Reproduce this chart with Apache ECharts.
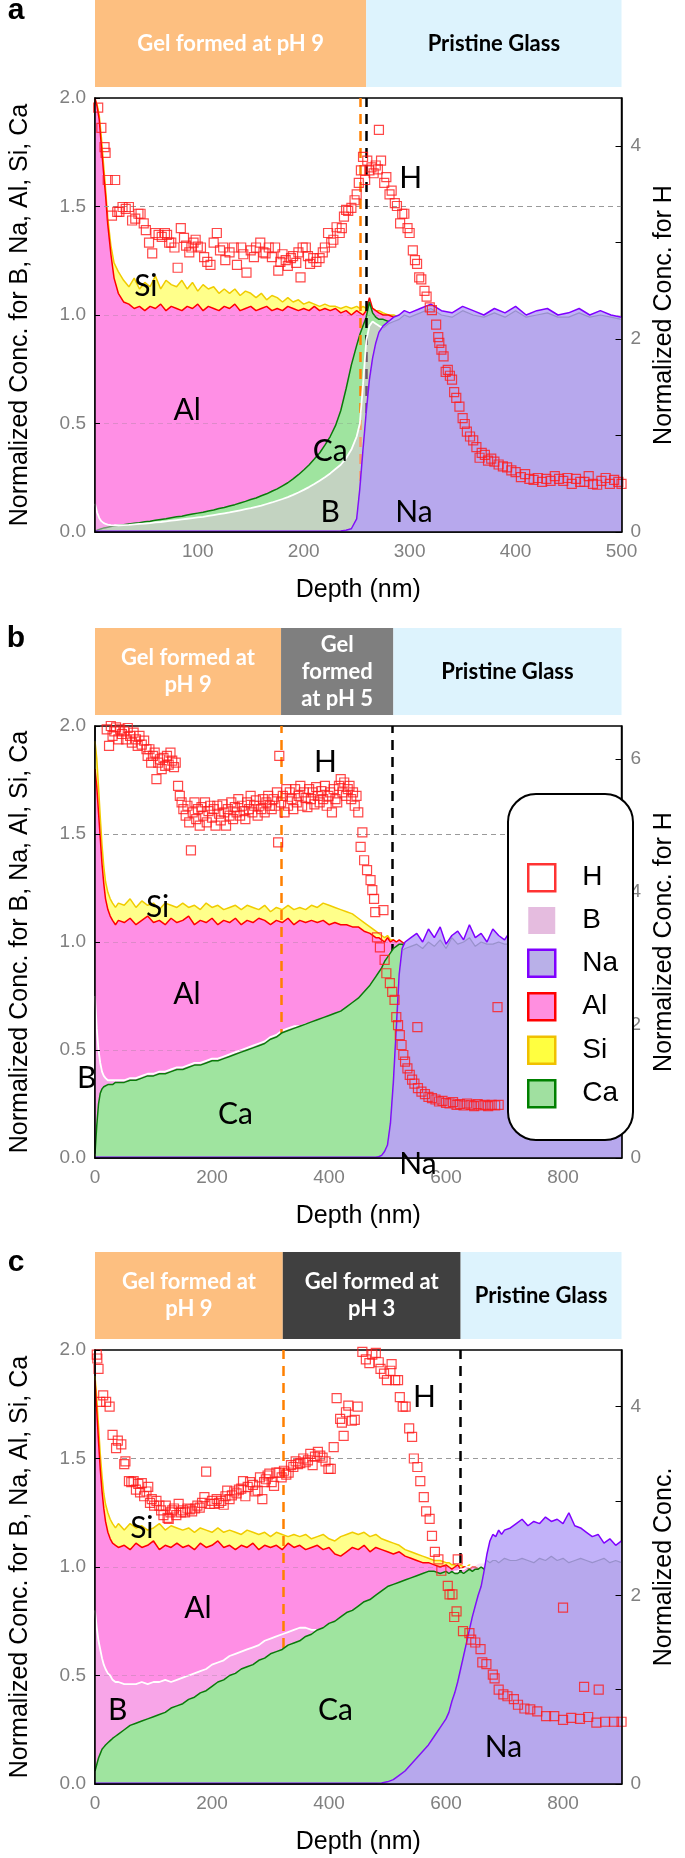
<!DOCTYPE html>
<html><head><meta charset="utf-8">
<script src="https://cdn.jsdelivr.net/npm/echarts@6/dist/echarts.min.js"></script>
<style>html,body{margin:0;padding:0;background:#fff}#c{width:685px;height:1858px}</style>
</head><body><div id="c"></div>
<script>
// ================= DATA =================
// ---- Panel a ----
const depthA = [
3,5,7,9,11,13,15,18,21,25,
30,35,40,45,50,55,60,65,70,75,
80,85,90,95,100,105,110,115,120,125,
130,135,140,145,150,155,160,165,170,175,
180,185,190,195,200,205,210,215,220,225,
230,235,240,245,250,253,256,259,262,265,
268,271,275,280,285,290,295,300,310,320,
330,340,350,360,370,380,390,400,410,420,
430,440,450,460,470,480,490,500];
const alA = [
2.0,1.96,1.9,1.78,1.66,1.55,1.42,1.28,1.17,1.1,
1.06,1.05,1.03,1.04,1.02,1.04,1.03,1.05,1.02,1.04,
1.03,1.02,1.04,1.03,1.05,1.02,1.04,1.03,1.02,1.04,
1.03,1.05,1.02,1.03,1.04,1.02,1.03,1.04,1.02,1.03,
1.02,1.04,1.03,1.02,1.03,1.02,1.04,1.02,1.03,1.02,
1.03,1.01,1.02,1.0,1.02,1.01,1.0,1.02,1.08,1.03,
1.02,1.01,1.0,1.0,0.99,0.99,0.98,0.98];
const siA = [
1.99,1.97,1.92,1.82,1.7,1.58,1.45,1.32,1.24,1.2,
1.16,1.13,1.17,1.12,1.15,1.13,1.18,1.12,1.16,1.14,
1.13,1.16,1.12,1.15,1.11,1.14,1.12,1.13,1.1,1.12,
1.1,1.12,1.09,1.11,1.1,1.08,1.1,1.07,1.09,1.08,
1.06,1.08,1.06,1.07,1.05,1.06,1.05,1.04,1.05,1.04,
1.04,1.03,1.04,1.03,1.04,1.03,1.04,1.03,1.05,1.03,
1.02,1.02,1.01,1.0,1.0,0.99,0.99,0.98];
const caA = [
0.005,0.008,0.012,0.015,0.018,0.02,0.022,0.025,0.028,0.031,
0.034,0.037,0.04,0.043,0.047,0.05,0.054,0.058,0.061,0.066,
0.07,0.073,0.078,0.083,0.087,0.091,0.097,0.101,0.108,0.113,
0.12,0.126,0.134,0.141,0.15,0.157,0.167,0.176,0.188,0.199,
0.213,0.227,0.245,0.264,0.286,0.309,0.336,0.364,0.4,0.44,
0.49,0.56,0.66,0.77,0.86,0.91,0.95,0.99,1.06,1.01,
0.99,0.98,0.98,0.97,0.98,0.97,0.97,0.96];
const bA = [
0.13,0.09,0.065,0.05,0.042,0.037,0.034,0.032,0.031,0.031,
0.032,0.033,0.035,0.037,0.039,0.041,0.044,0.046,0.049,0.052,
0.055,0.058,0.061,0.064,0.067,0.07,0.074,0.078,0.082,0.086,
0.09,0.095,0.1,0.105,0.11,0.116,0.122,0.129,0.136,0.144,
0.152,0.161,0.171,0.182,0.194,0.207,0.221,0.236,0.252,0.27,
0.29,0.31,0.34,0.38,0.44,0.5,0.68,0.88,0.95,0.97,
0.96,0.95,0.94,0.96,0.97,0.98,1.0,0.99,1.01,1.03,
1.0,0.99,1.02,1.0,0.99,1.01,0.99,1.02,0.99,1.0,
1.01,0.99,0.99,1.01,0.99,1.0,0.99,0.98];
const naA = [
0.004,0.004,0.004,0.004,0.004,0.004,0.004,0.004,0.004,0.004,
0.004,0.004,0.004,0.004,0.004,0.004,0.004,0.004,0.004,0.004,
0.004,0.004,0.004,0.004,0.004,0.004,0.004,0.004,0.004,0.004,
0.004,0.004,0.004,0.004,0.004,0.004,0.004,0.004,0.004,0.004,
0.004,0.004,0.004,0.004,0.004,0.004,0.004,0.004,0.004,0.004,
0.004,0.005,0.008,0.015,0.06,0.2,0.38,0.55,0.7,0.8,
0.87,0.92,0.95,0.97,0.99,1.0,1.02,1.01,1.03,1.05,
1.02,1.01,1.04,1.02,1.0,1.03,1.01,1.04,1.0,1.02,
1.03,1.0,1.01,1.03,1.0,1.02,1.0,0.99];
const hA = [
[6,4.4],[9,4.19],[12,3.99],[13,3.93],[15,3.65],[19,3.28],[22,3.65],[24,3.32],[26,3.32],[29,3.37],
[32,3.35],[35,3.37],[38,3.23],[41,3.25],[44,3.3],[46,3.3],[49,3.2],[51,3.13],[54,3.0],[57,2.89],
[60,3.1],[63,3.08],[66,3.06],[69,3.1],[71,3.08],[73,3.0],[75,3.0],[78,2.95],[81,2.74],[84,3.15],
[87,3.05],[89,2.97],[92,2.9],[94,2.95],[96,3.0],[98,3.03],[100,2.96],[103,2.95],[106,2.85],[109,2.8],
[112,2.77],[115,3.0],[118,3.1],[121,2.92],[124,2.95],[126,2.82],[130,2.9],[134,2.95],[137,2.77],[141,2.95],
[143,2.88],[146,2.69],[150,2.92],[153,2.85],[155,2.95],[159,3.0],[162,2.9],[164,2.89],[167,2.95],[170,2.85],
[173,2.95],[176,2.71],[178,2.8],[180,2.88],[183,2.82],[185,2.76],[188,2.84],[190,2.86],[193,2.79],[195,2.9],
[197,2.64],[199,2.95],[202,2.95],[204,2.86],[206,2.78],[209,2.84],[212,2.8],[215,2.84],[218,2.9],[220,2.95],
[223,3.1],[226,3.0],[228,3.03],[231,3.16],[234,3.1],[236,3.15],[238,3.27],[240,3.34],[242,3.33],[245,3.36],
[248,3.44],[250,3.5],[252,3.62],[254,3.75],[256,3.89],[258,3.65],[260,3.85],[262,3.75],[264,3.78],[266,3.72],
[268,3.8],[270,3.76],[271,4.17],[273,3.85],[276,3.62],[278,3.68],[281,3.5],[283,3.54],[286,3.41],[288,3.38],
[291,3.2],[293,3.3],[295,3.3],[298,3.15],[300,3.1],[303,2.92],[305,2.82],[307,2.78],[309,2.64],[311,2.62],
[314,2.5],[316,2.44],[319,2.33],[321,2.3],[325,2.15],[327,2.02],[328,1.96],[330,1.89],[332,1.82],[334,1.66],
[336,1.68],[338,1.62],[340,1.58],[342,1.45],[344,1.39],[347,1.3],[350,1.18],[352,1.12],[354,1.04],[357,0.99],
[360,0.95],[363,0.88],[366,0.77],[368,0.82],[371,0.8],[374,0.74],[377,0.76],[380,0.73],[384,0.7],[388,0.68],
[392,0.67],[396,0.64],[400,0.62],[405,0.57],[409,0.6],[413,0.55],[417,0.54],[421,0.56],[425,0.52],[429,0.55],
[433,0.53],[437,0.58],[441,0.55],[445,0.53],[449,0.56],[453,0.5],[457,0.55],[461,0.52],[465,0.52],[469,0.58],
[473,0.5],[477,0.49],[481,0.53],[485,0.56],[489,0.5],[493,0.54],[497,0.52],[500,0.5]];

// ---- Panel b ----
const depthB = [
0,3,6,9,12,15,18,22,26,30,
35,40,50,60,70,80,90,100,110,120,
130,140,150,160,170,180,190,200,210,220,
230,240,250,260,270,280,290,300,310,320,
330,340,350,360,370,380,390,400,410,420,
430,440,450,460,470,480,485,490,495,500,
505,510,515,520,525,530,540,550,560,570,
580,590,600,610,620,630,640,650,660,670,
680,690,700,710,720,730,740,750,760,770,
780,790,800,810,820,830,840,850,860,870,
880,890,900];
const alB = [
1.8,1.72,1.6,1.48,1.36,1.27,1.2,1.15,1.12,1.1,
1.08,1.1,1.09,1.11,1.08,1.1,1.12,1.09,1.1,1.08,
1.11,1.09,1.1,1.12,1.08,1.1,1.09,1.11,1.08,1.1,
1.09,1.11,1.08,1.1,1.09,1.11,1.1,1.08,1.1,1.09,
1.11,1.08,1.1,1.09,1.1,1.09,1.1,1.08,1.09,1.08,
1.08,1.07,1.07,1.05,1.04,1.02,1.02,1.01,1.0,1.02,
1.0,1.01,1.0,1.01,1.0,0.99,0.98];
const siB = [
1.93,1.85,1.72,1.58,1.45,1.35,1.28,1.23,1.2,1.18,
1.16,1.18,1.17,1.2,1.16,1.19,1.17,1.18,1.15,1.18,
1.17,1.16,1.18,1.16,1.17,1.15,1.18,1.16,1.17,1.15,
1.16,1.17,1.15,1.17,1.16,1.15,1.17,1.14,1.16,1.15,
1.17,1.15,1.16,1.15,1.17,1.16,1.18,1.17,1.16,1.15,
1.14,1.13,1.11,1.09,1.07,1.05,1.04,1.03,1.02,1.03,
1.01,1.01,1.0,1.0,0.99,0.99,0.98];
const caB = [
0.02,0.15,0.25,0.3,0.32,0.33,0.33,0.34,0.34,0.34,
0.35,0.35,0.35,0.36,0.36,0.37,0.38,0.38,0.39,0.39,
0.4,0.41,0.41,0.42,0.43,0.43,0.44,0.45,0.45,0.46,
0.47,0.48,0.49,0.5,0.51,0.52,0.53,0.55,0.56,0.58,
0.59,0.6,0.61,0.62,0.63,0.64,0.65,0.66,0.67,0.68,
0.7,0.72,0.74,0.77,0.8,0.84,0.86,0.88,0.91,0.93,
0.95,0.97,0.98,0.99,0.99,0.98,0.98];
const bB = [
0.75,0.6,0.5,0.44,0.4,0.38,0.37,0.36,0.36,0.36,
0.36,0.36,0.36,0.37,0.37,0.38,0.39,0.39,0.4,0.4,
0.41,0.42,0.42,0.43,0.44,0.44,0.45,0.46,0.46,0.47,
0.48,0.49,0.5,0.51,0.52,0.53,0.54,0.56,0.57,0.59,
0.6,0.61,0.61,0.62,0.62,0.63,0.63,0.64,0.64,0.65,
0.66,0.68,0.7,0.73,0.76,0.8,0.83,0.86,0.9,0.93,
0.95,0.96,0.97,0.97,0.96,0.97,0.98,0.99,0.97,1.0,
0.98,1.01,0.97,1.02,0.99,1.0,1.02,0.98,1.0,0.99,
0.99,1.0,0.99,0.99,1.0,1.02,0.98,1.0,1.01,0.99,
1.0,0.99,1.0,1.0,0.99,1.0,1.01,0.99,0.99,0.99,
1.0,0.99,0.99];
const naB = [
0.003,0.003,0.003,0.003,0.003,0.003,0.003,0.003,0.003,0.003,
0.003,0.003,0.003,0.003,0.003,0.003,0.003,0.003,0.003,0.003,
0.003,0.003,0.003,0.003,0.003,0.003,0.003,0.003,0.003,0.003,
0.003,0.003,0.003,0.003,0.003,0.003,0.003,0.003,0.003,0.003,
0.003,0.003,0.003,0.003,0.003,0.003,0.003,0.003,0.003,0.003,
0.003,0.003,0.003,0.003,0.003,0.004,0.006,0.012,0.03,0.06,
0.16,0.35,0.6,0.85,0.97,1.0,1.02,1.04,1.0,1.06,
1.02,1.07,0.99,1.03,1.05,1.01,1.08,1.02,1.04,1.0,
1.06,1.03,1.01,1.05,1.02,1.04,1.0,1.03,1.05,1.01,
1.02,1.04,1.0,1.03,1.02,1.01,1.04,1.02,1.0,1.03,
1.01,1.02,1.0];
const hB = [
[20,6.45],[24,6.2],[27,6.5],[30,6.35],[33,6.42],[36,6.48],[40,6.3],[43,6.45],[46,6.38],[50,6.42],
[53,6.3],[56,6.47],[60,6.35],[63,6.25],[66,6.4],[70,6.3],[73,6.2],[76,6.35],[80,6.22],[84,6.28],
[88,6.15],[90,6.05],[93,6.15],[96,5.95],[99,6.05],[102,6.1],[105,5.7],[108,5.95],[111,6.0],[114,5.85],
[117,6.02],[120,5.9],[123,6.05],[126,5.92],[129,6.1],[132,5.98],[135,5.88],[138,5.95],[142,5.6],[145,5.45],
[148,5.35],[151,5.25],[155,5.15],[158,5.3],[161,5.05],[164,4.63],[167,5.2],[170,5.35],[173,5.1],[176,5.25],
[179,5.0],[182,5.28],[185,5.15],[188,5.35],[191,5.05],[194,5.22],[197,5.3],[200,5.12],[203,5.25],[206,5.0],
[209,5.3],[212,5.18],[215,5.08],[218,5.32],[221,5.2],[224,5.0],[227,5.25],[230,5.15],[233,5.35],[236,5.1],
[239,5.28],[242,5.2],[245,5.4],[248,5.15],[251,5.3],[254,5.22],[257,5.1],[260,5.35],[263,5.25],[266,5.45],
[269,5.2],[272,5.3],[275,5.38],[278,5.15],[281,5.3],[284,5.25],[287,5.4],[290,5.2],[293,5.35],[296,5.45],
[299,5.3],[302,5.25],[305,5.4],[308,5.3],[311,5.5],[313,4.75],[315,6.05],[318,5.35],[321,5.45],[324,5.2],
[327,5.55],[330,5.3],[333,5.5],[336,5.4],[339,5.25],[342,5.55],[345,5.35],[348,5.45],[351,5.6],[354,5.3],
[357,5.5],[360,5.42],[363,5.28],[366,5.55],[369,5.4],[372,5.5],[375,5.32],[378,5.58],[381,5.45],[384,5.35],
[387,5.52],[390,5.4],[393,5.6],[396,5.3],[399,5.45],[402,5.5],[405,5.2],[408,5.55],[411,5.4],[414,5.35],
[417,5.6],[420,5.7],[423,5.5],[426,5.65],[429,5.45],[432,5.55],[435,5.6],[438,5.4],[441,5.5],[444,5.3],
[447,5.45],[450,5.2],[454,4.68],[457,4.9],[460,4.48],[465,4.33],[471,4.18],[474,4.03],[477,3.9],[479,3.7],
[482,3.32],[487,3.17],[493,3.73],[495,2.98],[498,2.78],[504,2.63],[508,2.5],[512,2.38],[515,2.12],[518,2.0],
[521,1.85],[524,1.7],[527,1.55],[530,1.45],[534,1.35],[538,1.25],[542,1.18],[546,1.12],[551,1.97],[552,1.05],
[558,1.0],[564,0.96],[570,0.92],[576,0.9],[582,0.88],[588,0.85],[594,0.86],[600,0.83],[606,0.82],[612,0.84],
[618,0.8],[624,0.81],[630,0.79],[636,0.82],[642,0.8],[648,0.78],[654,0.81],[660,0.79],[666,0.8],[672,0.78],
[678,0.8],[684,0.79],[688,2.27],[690,0.8]];

// ---- Panel c ----
const depthC = [
0,3,6,9,12,15,18,22,26,30,
35,40,50,60,70,80,90,100,110,120,
130,140,150,160,170,180,190,200,210,220,
230,240,250,260,270,280,290,300,310,320,
330,340,350,360,370,380,390,400,410,420,
430,440,450,460,470,480,490,500,510,520,
530,540,550,560,570,580,590,600,605,610,
615,620,625,630,635,640,645,650,655,660,
665,670,675,680,685,690,695,700,710,720,
730,740,750,760,770,780,790,800,810,820,
830,840,850,860,870,880,890,900];
const alC = [
1.86,1.72,1.58,1.45,1.35,1.27,1.21,1.16,1.13,1.11,
1.1,1.09,1.1,1.08,1.11,1.09,1.1,1.12,1.08,1.1,
1.09,1.11,1.09,1.1,1.08,1.11,1.09,1.1,1.12,1.09,
1.1,1.08,1.1,1.09,1.11,1.08,1.1,1.09,1.1,1.08,
1.11,1.09,1.1,1.08,1.09,1.1,1.08,1.09,1.06,1.05,
1.07,1.09,1.08,1.1,1.07,1.09,1.08,1.07,1.06,1.07,
1.05,1.04,1.03,1.02,1.02,1.01,1.0,1.01,1.0,0.99,
1.0,1.01,0.99,1.0,1.0,0.99,1.0,1.0,0.99,0.99,
0.99,0.98,0.98,0.98];
const siC = [
1.88,1.78,1.65,1.52,1.42,1.34,1.29,1.25,1.22,1.2,
1.18,1.2,1.17,1.2,1.18,1.19,1.17,1.18,1.2,1.17,
1.19,1.18,1.17,1.18,1.16,1.18,1.17,1.16,1.18,1.16,
1.17,1.16,1.15,1.17,1.16,1.15,1.16,1.14,1.16,1.15,
1.14,1.15,1.14,1.15,1.13,1.14,1.15,1.13,1.12,1.14,
1.15,1.16,1.15,1.16,1.14,1.15,1.13,1.12,1.11,1.1,
1.08,1.07,1.06,1.05,1.04,1.03,1.03,1.02,1.02,1.01,
1.01,1.0,1.01,1.0,1.0,1.01,1.0,1.0,0.99,0.99,
0.99,0.98,0.98,0.98];
const caC = [
0.06,0.09,0.12,0.14,0.16,0.17,0.18,0.19,0.2,0.21,
0.22,0.23,0.25,0.27,0.28,0.29,0.3,0.31,0.32,0.33,
0.35,0.36,0.37,0.39,0.4,0.42,0.43,0.45,0.47,0.48,
0.5,0.51,0.53,0.54,0.55,0.57,0.58,0.6,0.61,0.62,
0.64,0.65,0.66,0.68,0.69,0.71,0.72,0.74,0.75,0.77,
0.79,0.8,0.82,0.84,0.85,0.87,0.89,0.91,0.92,0.93,
0.94,0.95,0.96,0.97,0.98,0.98,0.97,0.98,0.97,0.98,
0.97,0.97,0.98,0.97,0.98,0.99,0.98,0.99,0.99,1.0,
0.99,0.98,0.98,0.98];
const bC = [
0.8,0.72,0.66,0.62,0.58,0.55,0.53,0.51,0.5,0.48,
0.47,0.47,0.46,0.46,0.46,0.47,0.46,0.47,0.47,0.48,
0.47,0.48,0.49,0.5,0.51,0.52,0.53,0.55,0.56,0.57,
0.59,0.6,0.61,0.62,0.63,0.64,0.66,0.67,0.68,0.69,
0.7,0.71,0.72,0.72,0.71,0.71,0.7,0.7,0.7,0.71,
0.7,0.71,0.7,0.71,0.72,0.71,0.73,0.76,0.78,0.8,
0.84,0.86,0.88,0.9,0.92,0.94,0.95,0.96,0.97,0.97,
0.98,0.98,0.99,0.99,1.0,1.0,1.01,1.01,1.02,1.02,
1.02,1.03,1.02,1.03,1.03,1.02,1.03,1.04,1.03,1.03,
1.04,1.03,1.02,1.04,1.03,1.05,1.03,1.04,1.02,1.03,
1.04,1.03,1.02,1.03,1.04,1.02,1.03,1.02];
const naC = [
0.003,0.003,0.003,0.003,0.003,0.003,0.003,0.003,0.003,0.003,
0.003,0.003,0.003,0.003,0.003,0.003,0.003,0.003,0.003,0.003,
0.003,0.003,0.003,0.003,0.003,0.003,0.003,0.003,0.003,0.003,
0.003,0.003,0.003,0.003,0.003,0.003,0.003,0.003,0.003,0.003,
0.003,0.003,0.003,0.003,0.003,0.003,0.003,0.003,0.003,0.003,
0.003,0.003,0.003,0.003,0.003,0.004,0.005,0.01,0.02,0.04,
0.06,0.09,0.12,0.15,0.18,0.22,0.26,0.3,0.33,0.38,
0.42,0.47,0.53,0.59,0.65,0.71,0.77,0.82,0.87,0.91,
0.98,1.06,1.12,1.15,1.14,1.17,1.15,1.17,1.18,1.2,
1.22,1.19,1.21,1.2,1.23,1.21,1.22,1.2,1.25,1.19,
1.18,1.16,1.14,1.15,1.11,1.13,1.1,1.12];
const hC = [
[3,4.55],[4,4.51],[6,4.4],[9,4.05],[14,4.12],[19,4.05],[25,4.0],[30,3.7],[36,3.56],[39,3.64],
[45,3.6],[50,3.39],[52,3.42],[58,3.21],[62,3.2],[66,3.21],[70,3.12],[74,3.18],[77,3.09],[80,3.19],
[84,3.05],[88,3.1],[91,3.15],[94,2.98],[97,3.02],[101,2.95],[105,3.0],[110,2.95],[113,2.9],[117,2.85],
[121,2.95],[124,2.82],[126,2.81],[129,2.88],[132,2.9],[135,2.92],[139,2.85],[143,2.97],[147,2.88],[150,2.9],
[154,2.88],[158,2.92],[162,2.91],[166,2.89],[171,2.92],[175,2.95],[179,2.93],[183,2.98],[187,3.04],[190,3.31],
[196,2.97],[200,3.0],[204,2.97],[208,3.02],[212,2.98],[216,3.0],[220,2.96],[223,3.05],[226,3.11],[230,3.02],
[234,3.06],[238,3.1],[242,3.08],[246,3.12],[250,3.13],[253,3.21],[257,3.05],[261,3.15],[265,3.2],[270,3.17],
[274,3.1],[278,3.11],[282,3.25],[286,3.02],[289,3.2],[292,3.23],[295,3.27],[298,3.29],[302,3.2],[306,3.16],
[310,3.3],[315,3.3],[319,3.25],[323,3.32],[327,3.28],[331,3.3],[335,3.38],[339,3.36],[343,3.42],[347,3.39],
[351,3.4],[356,3.45],[360,3.41],[364,3.43],[368,3.5],[372,3.38],[376,3.47],[381,3.52],[385,3.48],[389,3.46],
[394,3.42],[399,3.34],[403,3.34],[408,3.57],[413,4.09],[419,3.87],[422,3.83],[425,3.69],[429,3.94],[433,4.01],
[439,3.85],[444,3.86],[449,4.0],[457,4.58],[463,4.5],[469,4.46],[474,4.55],[480,4.57],[485,4.47],[488,4.4],
[494,4.35],[499,4.28],[505,4.38],[507,4.45],[513,4.28],[518,4.28],[521,4.1],[526,4.0],[531,4.0],[537,3.77],
[542,3.68],[545,3.45],[551,3.36],[556,3.21],[562,3.04],[566,2.89],[572,2.81],[576,2.63],[581,2.46],[587,2.38],
[592,2.26],[603,2.1],[606,2.01],[611,2.01],[614,1.77],[618,1.83],[620,2.38],[629,1.62],[640,1.6],[643,1.53],
[650,1.5],[659,1.43],[662,1.29],[669,1.27],[680,1.16],[683,1.12],[690,1.0],[698,0.95],[705,0.93],[716,0.9],
[723,0.84],[734,0.8],[744,0.79],[756,0.77],[771,0.72],[785,0.72],[800,0.68],[800,1.87],[814,0.7],[829,0.69],
[836,1.03],[843,0.71],[857,0.65],[861,1.0],[872,0.66],[887,0.66],[900,0.66]];

// axis ticks / labels
const xLabelsA = [100,200,300,400,500];
const xLabelsBC = [0,200,400,600,800];
const hTicksA = [0,1,2,3,4], hLabelsA = [0,2,4];
const hTicksB = [0,1,2,3,4,5,6], hLabelsB = [0,2,4,6];
const hTicksC = [0,1,2,3,4], hLabelsC = [0,2,4];

// region boundaries (depth, nm) and dashed markers
const bannerEdgesA = [3,259,500];
const bannerEdgesB = [0,318,510,900];
const bannerEdgesC = [0,321,625,900];
const bannerTextsA = ['Gel formed at pH 9','Pristine Glass'];
const bannerTextsB = ['Gel formed at\npH 9','Gel\nformed\nat pH 5','Pristine Glass'];
const bannerTextsC = ['Gel formed at\npH 9','Gel formed at\npH 3','Pristine Glass'];
const dashA = [253,259], dashB = [318,508], dashC = [321,624];
const bSplitA = 275, bSplitB = 525, bSplitC = 670;

// ================= STYLE / LAYOUT =================
const FONT = 'Liberation Sans';
const bannerFill = [['#FDBF80','#DDF3FD'],['#FDBF80','#7F7F7F','#DDF3FD'],['#FDBF80','#404040','#DDF3FD']];
const bannerText = [['#fff','#000'],['#fff','#fff','#000'],['#fff','#fff','#000']];
const annotLayout = [
  [['H',301,1.63],['Si',51,1.13],['Al',90,0.56],['Ca',225,0.37],['B',225,0.09],['Na',304,0.09]],
  [['H',394,1.83],['Si',107,1.16],['Al',157,0.76],['Ca',240,0.2],['B',-14,0.37],['Na',552,-0.03]],
  [['H',563,1.78],['Si',80,1.18],['Al',176,0.81],['B',39,0.34],['Ca',411,0.34],['Na',698,0.17]]
];
// draw order of Ca vs. B (gel part) per panel
const zCa = [4,5,5], zBgel = [5,4,4];
const panels = [
  {depth:depthA, al:alA, si:siA, ca:caA, b:bA, na:naA, h:hA, split:bSplitA, xmin:3, xmax:500, xl:xLabelsA,
   hmax:4.5, ht:hTicksA, hl:hLabelsA, dash:dashA, rname:'Normalized Conc. for H',
   grid:{left:87, top:98, width:544, height:434}, edges:bannerEdgesA, btexts:bannerTextsA, letter:'a'},
  {depth:depthB, al:alB, si:siB, ca:caB, b:bB, na:naB, h:hB, split:bSplitB, xmin:0, xmax:900, xl:xLabelsBC,
   hmax:6.5, ht:hTicksB, hl:hLabelsB, dash:dashB, rname:'Normalized Conc. for H',
   grid:{left:88, top:726, width:545, height:432}, edges:bannerEdgesB, btexts:bannerTextsB, letter:'b'},
  {depth:depthC, al:alC, si:siC, ca:caC, b:bC, na:naC, h:hC, split:bSplitC, xmin:0, xmax:900, xl:xLabelsBC,
   hmax:4.6, ht:hTicksC, hl:hLabelsC, dash:dashC, rname:'Normalized Conc.',
   grid:{left:87, top:1350, width:545, height:434}, edges:bannerEdgesC, btexts:bannerTextsC, letter:'c'}
];

function pairs(d, v){ return v.map((y,k)=>[d[k], y]); }

const grids=[], xAxes=[], yAxes=[], series=[];
panels.forEach((p,i)=>{
  grids.push(Object.assign({show:true, borderColor:'#000', borderWidth:1.5, backgroundColor:'#fff'}, p.grid));
  const xa = {gridIndex:i, type:'value', min:p.xmin, max:p.xmax, z:15,
    axisLine:{show:true, onZero:false, lineStyle:{color:'#000', width:1.5}},
    axisTick:{show:false}, splitLine:{show:false},
    axisLabel:{customValues:p.xl, color:'#808080', fontSize:19, fontFamily:FONT, margin:10},
    name:'Depth (nm)', nameLocation:'middle', nameGap:46,
    nameTextStyle:{fontSize:25, color:'#000', fontFamily:FONT}};
  if (i>0) xa.interval = 200;
  xAxes.push(xa);
  yAxes.push({gridIndex:i, type:'value', position:'left', min:0, max:2, interval:0.5, z:15,
    axisLine:{show:true, lineStyle:{color:'#000', width:1.5}},
    axisTick:{show:true, inside:true, length:5, lineStyle:{color:'#000'}},
    splitLine:{show:false},
    axisLabel:{formatter:v=>v.toFixed(1), color:'#808080', fontSize:19, fontFamily:FONT, margin:9},
    name:'Normalized Conc. for B, Na, Al, Si, Ca', nameLocation:'middle', nameGap:62, nameRotate:90,
    nameTextStyle:{fontSize:25, color:'#000', fontFamily:FONT}});
  yAxes.push({gridIndex:i, type:'value', position:'right', min:0, max:p.hmax, z:15,
    axisLine:{show:true, lineStyle:{color:'#000', width:1.5}},
    axisTick:{show:true, inside:true, length:6, customValues:p.ht, lineStyle:{color:'#000'}},
    splitLine:{show:false},
    axisLabel:{customValues:p.hl, color:'#808080', fontSize:19, fontFamily:FONT, margin:9},
    name:p.rname, nameLocation:'middle', nameGap:27, nameRotate:90,
    nameTextStyle:{fontSize:25, color:'#000', fontFamily:FONT}});
  const common = {type:'line', xAxisIndex:i, yAxisIndex:2*i, showSymbol:false, symbol:'none', silent:true, animation:false};
  const bAll = pairs(p.depth, p.b);
  // B as seen through the Na region: the lower of the two read curves
  const bUnderNa = p.b.map((v,k)=>[p.depth[k], Math.min(v, p.na[k])]);
  series.push(Object.assign({}, common, {name:'Si', z:2, data:pairs(p.depth,p.si),
    lineStyle:{color:'#F0CC00', width:1.5}, areaStyle:{color:'#FFFF8A', opacity:1},
    markLine:{silent:true, symbol:['none','none'], label:{show:false}, animation:false,
      lineStyle:{type:[5,4], color:'#9a9a9a', width:1}, data:[{yAxis:1.5}]}}));
  series.push(Object.assign({}, common, {name:'Al', z:3, data:pairs(p.depth,p.al),
    lineStyle:{color:'#FF0000', width:1.5}, areaStyle:{color:'#FF8FE5', opacity:1}}));
  series.push(Object.assign({}, common, {name:'Ca', z:zCa[i], data:pairs(p.depth,p.ca),
    lineStyle:{color:'#0A7A0A', width:1.5}, areaStyle:{color:'#9FE49F', opacity:1}}));
  series.push(Object.assign({}, common, {name:'B', z:zBgel[i], data:bAll.filter(d=>d[0]<=p.split),
    lineStyle:{color:'#FFFFFF', width:1.8}, areaStyle:{color:'rgba(240,192,235,0.65)'}}));
  series.push(Object.assign({}, common, {name:'Na', z:6, data:pairs(p.depth,p.na),
    lineStyle:{color:'#7F00FF', width:1.5}, areaStyle:{color:'#C2B2F9', opacity:1},
    markLine:{silent:true, symbol:['none','none'], label:{show:false}, animation:false,
      lineStyle:{type:[5,4], color:'rgba(120,120,120,0.25)', width:1}, data:[{yAxis:0.5},{yAxis:1.0}]}}));
  series.push(Object.assign({}, common, {name:'B', z:7, data:bUnderNa,
    lineStyle:{width:0, opacity:0}, areaStyle:{color:'rgba(150,140,200,0.35)'}}));
  series.push(Object.assign({}, common, {name:'B', z:7, data:bAll.filter(d=>d[0]>=p.split),
    lineStyle:{color:'rgba(140,135,190,0.75)', width:1.2}}));
  series.push({type:'scatter', name:'H', xAxisIndex:i, yAxisIndex:2*i+1, z:9, silent:true, animation:false,
    data:p.h, symbol:'rect', symbolSize:9,
    itemStyle:{color:'rgba(255,255,255,0)', borderColor:'#FF1A1A', borderWidth:1.2},
    markLine:{silent:true, symbol:['none','none'], label:{show:false}, animation:false,
      data:[{xAxis:p.dash[0], lineStyle:{color:'#FF8000', type:[10,7], width:2.5}},
            {xAxis:p.dash[1], lineStyle:{color:'#000', type:[10,7], width:2.5}}]}});
});

const option = {
  animation:false, backgroundColor:'#fff',
  grid:grids, xAxis:xAxes, yAxis:yAxes, series:series,
  legend:{show:true, orient:'vertical', left:522, top:858, itemWidth:27, itemHeight:27, itemGap:14,
    selectedMode:false, z:30,
    textStyle:{fontSize:28, color:'#000', fontFamily:FONT, padding:[0,0,0,22], lineHeight:27},
    data:[
      {name:'H', icon:'rect', itemStyle:{color:'#fff', borderColor:'#FF0000', borderWidth:2.5}},
      {name:'B', icon:'rect', itemStyle:{color:'#E5BCDF', borderWidth:0}},
      {name:'Na', icon:'rect', itemStyle:{color:'#B9B0E8', borderColor:'#7F00FF', borderWidth:2.5}},
      {name:'Al', icon:'rect', itemStyle:{color:'#FF8FE0', borderColor:'#FF0000', borderWidth:2.5}},
      {name:'Si', icon:'rect', itemStyle:{color:'#FFFF40', borderColor:'#F0C000', borderWidth:2.5}},
      {name:'Ca', icon:'rect', itemStyle:{color:'#A0E0A0', borderColor:'#008000', borderWidth:2.5}}
    ]}
};

const chart = echarts.init(document.getElementById('c'), null, {renderer:'canvas'});
chart.setOption(option);

const els = [];
panels.forEach((p,i)=>{
  const top = p.grid.top - 98, h = 87;
  for (let k=0;k<p.edges.length-1;k++){
    const x0 = chart.convertToPixel({xAxisIndex:i}, p.edges[k]);
    const x1 = chart.convertToPixel({xAxisIndex:i}, p.edges[k+1]);
    els.push({type:'rect', z:20, silent:true, shape:{x:x0, y:top, width:x1-x0, height:h},
      style:{fill:bannerFill[i][k]}});
    els.push({type:'text', z:21, silent:true, x:(x0+x1)/2, y:top+h/2,
      style:{text:p.btexts[k], fill:bannerText[i][k], font:'bold 22px Lato', align:'center',
        verticalAlign:'middle', lineHeight:27}});
  }
  els.push({type:'text', z:21, silent:true, x:16, y:p.grid.top-87,
    style:{text:p.letter, fill:'#000', font:'bold 30px '+FONT, align:'center', verticalAlign:'middle'}});
  annotLayout[i].forEach(a=>{
    const pt = chart.convertToPixel({xAxisIndex:i, yAxisIndex:2*i}, [a[1], a[2]]);
    els.push({type:'text', z:22, silent:true, x:pt[0], y:pt[1],
      style:{text:a[0], fill:'#000', font:'30px Lato', align:'center', verticalAlign:'middle'}});
  });
});
els.push({type:'rect', z:28, silent:true, shape:{x:508, y:794, width:125, height:346, r:28},
  style:{fill:'#fff', stroke:'#000', lineWidth:2}});
chart.setOption({graphic:{elements:els}});
</script></body></html>
